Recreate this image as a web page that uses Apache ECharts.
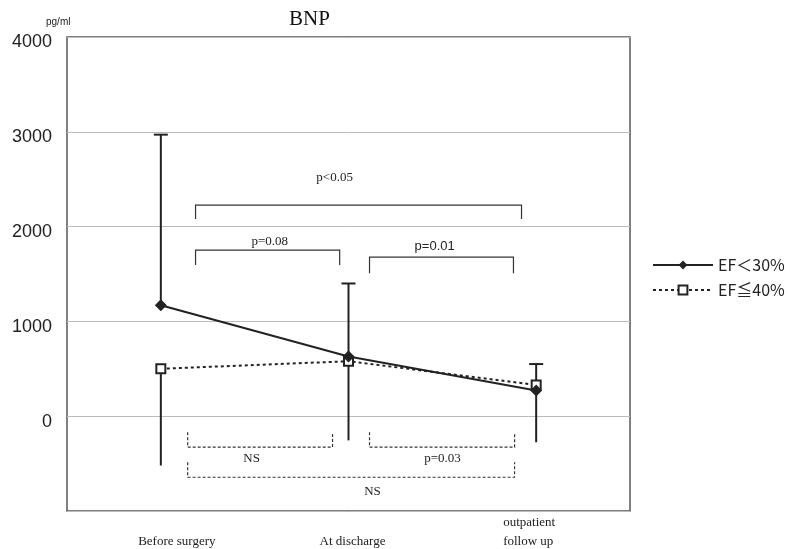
<!DOCTYPE html>
<html>
<head>
<meta charset="utf-8">
<title>BNP</title>
<script src="https://cdn.jsdelivr.net/npm/echarts@6/dist/echarts.min.js"></script>
<style>
html, body { margin: 0; padding: 0; background: #fff; }
#chart { width: 790px; height: 549px; }
</style>
</head>
<body>
<div id="chart"></div>
<script type="text/javascript">
// 时间点
var categories = ['Before surgery', 'At discharge', 'outpatient\nfollow up'];
var ef30 = [1170, 630, 270];
var ef40 = [500, 580, 330];
var ef30Upper = [2970, 1400, 550];
var ef40Lower = [-520, -255, -275];
var yTicks = [0, 1000, 2000, 3000, 4000];

// 显著性括号: [x1, x2, 横线y, 端点y]
var brackets = [
    [0.185, 1.922, 2227, 2079],
    [0.185, 0.953, 1752, 1594],
    [1.112, 1.879, 1678, 1509]
];
var dashBrackets = [
    [0.143, 0.915, -327, -169],
    [1.112, 1.885, -327, -169],
    [0.143, 1.885, -644, -485]
];
// 标注: [x, y, 文本, 字体]
var notes = [
    [0.926, 2512, 'p<0.05', 'serif'],
    [0.580, 1847, 'p=0.08', 'serif'],
    [1.459, 1794, 'p=0.01', 'sans-serif'],
    [0.484, -443, 'NS', 'serif'],
    [1.501, -443, 'p=0.03', 'serif'],
    [1.128, -792, 'NS', 'serif']
];

var chart = echarts.init(document.getElementById('chart'));

function bracketItem(dashed) {
    return function (params, api) {
        var a = api.coord([api.value(0), api.value(3)]);
        var b = api.coord([api.value(0), api.value(2)]);
        var c = api.coord([api.value(1), api.value(2)]);
        var d = api.coord([api.value(1), api.value(3)]);
        return {
            type: 'polyline',
            shape: { points: [a, b, c, d] },
            style: { fill: 'none', stroke: '#333', lineWidth: 1.2, lineDash: dashed ? [3, 2] : null }
        };
    };
}

var option = {
    animation: false,
    title: [
        { text: 'BNP', left: 284, top: 4,
          textStyle: { fontFamily: 'Liberation Serif', fontSize: 21, fontWeight: 'normal', color: '#111' } },
        { text: 'pg/ml', left: 41, top: 12,
          textStyle: { fontFamily: 'Liberation Sans', fontSize: 10, fontWeight: 'normal', color: '#222' } }
    ],
    legend: {
        data: ['EF＜30%', 'EF≦40%'],
        orient: 'vertical',
        left: 647,
        top: 252,
        itemWidth: 60,
        itemHeight: 11,
        itemGap: 9,
        textStyle: { fontFamily: 'Noto Sans CJK JP', fontSize: 16, color: '#222' }
    },
    grid: {
        left: 67, right: 160, top: 37, bottom: 38,
        show: true, borderColor: '#555', borderWidth: 1.5
    },
    xAxis: [
        {
            type: 'category',
            data: categories,
            boundaryGap: true,
            axisLine: { show: false },
            axisTick: { show: false },
            axisLabel: {
                margin: 40,
                verticalAlign: 'bottom',
                formatter: function (v, i) { return '{c' + i + '|' + v + '}'; },
                rich: {
                    c0: { fontFamily: 'Liberation Serif', fontSize: 13, color: '#222', lineHeight: 19, padding: [0, 0, 0, 32] },
                    c1: { fontFamily: 'Liberation Serif', fontSize: 13, color: '#222', lineHeight: 19, padding: [0, 0, 0, 8] },
                    c2: { fontFamily: 'Liberation Serif', fontSize: 13, color: '#222', lineHeight: 19, align: 'left', padding: [0, 14, 0, 0] }
                }
            }
        },
        { type: 'value', min: -0.5, max: 2.5, show: false }
    ],
    yAxis: {
        type: 'value',
        min: -1000,
        max: 4000,
        interval: 1000,
        axisLine: { show: false },
        axisTick: { show: false },
        axisLabel: {
            margin: 15,
            verticalAlign: 'top',
            lineHeight: 11,
            fontFamily: 'Liberation Sans',
            fontSize: 18,
            color: '#222',
            formatter: function (v) { return yTicks.indexOf(v) >= 0 ? String(v) : ''; }
        },
        splitLine: { lineStyle: { color: '#bbb', width: 1 } }
    },
    series: [
        {
            name: 'errUpper',
            type: 'custom',
            z: 2,
            data: ef30.map(function (v, i) { return [i, v, ef30Upper[i]]; }),
            renderItem: function (params, api) {
                var p0 = api.coord([api.value(0), api.value(1)]);
                var p1 = api.coord([api.value(0), api.value(2)]);
                return {
                    type: 'group',
                    children: [
                        { type: 'line', shape: { x1: p0[0], y1: p0[1], x2: p1[0], y2: p1[1] }, style: { stroke: '#222', lineWidth: 2 } },
                        { type: 'line', shape: { x1: p1[0] - 7, y1: p1[1], x2: p1[0] + 7, y2: p1[1] }, style: { stroke: '#222', lineWidth: 2 } }
                    ]
                };
            }
        },
        {
            name: 'errLower',
            type: 'custom',
            z: 2,
            data: ef40.map(function (v, i) { return [i, v, ef40Lower[i]]; }),
            renderItem: function (params, api) {
                var p0 = api.coord([api.value(0), api.value(1)]);
                var p1 = api.coord([api.value(0), api.value(2)]);
                return { type: 'line', shape: { x1: p0[0], y1: p0[1], x2: p1[0], y2: p1[1] }, style: { stroke: '#222', lineWidth: 2 } };
            }
        },
        {
            name: 'EF≦40%',
            type: 'line',
            z: 3,
            data: ef40,
            symbol: 'rect',
            symbolSize: 9,
            lineStyle: { color: '#222', width: 2, type: [3, 3] },
            itemStyle: { color: '#fff', borderColor: '#222', borderWidth: 2 }
        },
        {
            name: 'EF＜30%',
            type: 'line',
            z: 4,
            data: ef30,
            symbol: 'diamond',
            symbolSize: 12,
            lineStyle: { color: '#222', width: 2 },
            itemStyle: { color: '#222' }
        },
        {
            name: 'brackets',
            type: 'custom',
            xAxisIndex: 1,
            data: brackets,
            renderItem: bracketItem(false)
        },
        {
            name: 'dashBrackets',
            type: 'custom',
            xAxisIndex: 1,
            data: dashBrackets,
            renderItem: bracketItem(true)
        },
        {
            name: 'notes',
            type: 'custom',
            xAxisIndex: 1,
            data: notes,
            encode: { x: 0, y: 1 },
            renderItem: function (params, api) {
                var n = notes[params.dataIndex];
                var p = api.coord([n[0], n[1]]);
                return {
                    type: 'text',
                    x: p[0], y: p[1],
                    style: {
                        text: n[2], align: 'center', verticalAlign: 'middle',
                        fontFamily: n[3] === 'serif' ? 'Liberation Serif' : 'Liberation Sans',
                        fontSize: 13, fill: '#222'
                    }
                };
            }
        }
    ]
};

chart.setOption(option);
</script>
</body>
</html>
